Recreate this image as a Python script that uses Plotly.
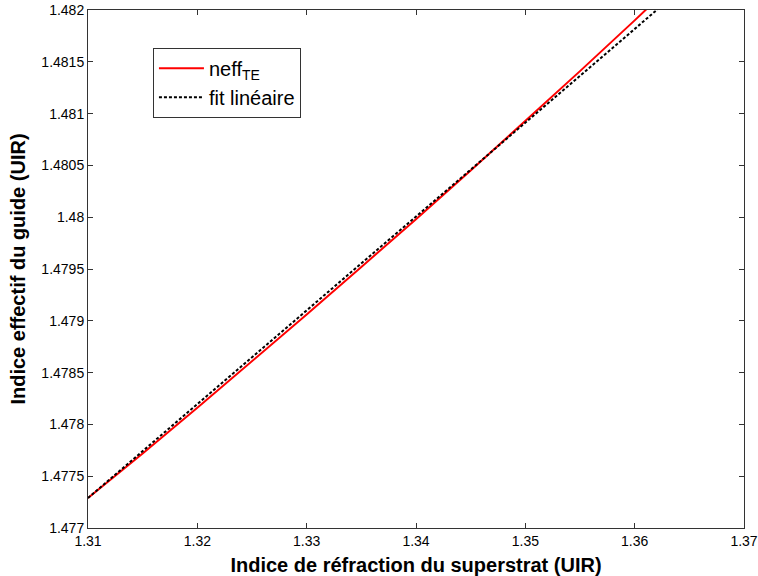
import plotly.graph_objects as go

# indice du superstrat (UIR)
n_sup = [1.31, 1.315, 1.32, 1.325, 1.33, 1.335, 1.34, 1.345, 1.35, 1.355, 1.36, 1.362]
# indice effectif TE
neff_te = [1.47729, 1.47772, 1.47816, 1.47861, 1.47906, 1.47952, 1.47998,
           1.48045, 1.48093, 1.48141, 1.48190, 1.48210]
# droite d'ajustement
n_fit = [1.31, 1.365]
neff_fit = [1.47729, 1.48227]

x_ticks = [1.31, 1.32, 1.33, 1.34, 1.35, 1.36, 1.37]
x_labels = ["1.31", "1.32", "1.33", "1.34", "1.35", "1.36", "1.37"]
y_ticks = [1.477, 1.4775, 1.478, 1.4785, 1.479, 1.4795, 1.48, 1.4805, 1.481, 1.4815, 1.482]
y_labels = ["1.477", "1.4775", "1.478", "1.4785", "1.479", "1.4795", "1.48",
            "1.4805", "1.481", "1.4815", "1.482"]

fig = go.Figure()
fig.add_trace(go.Scatter(x=n_sup, y=neff_te, mode="lines", name="neff<sub>TE</sub>",
                         line=dict(color="red", width=2)))
fig.add_trace(go.Scatter(x=n_fit, y=neff_fit, mode="lines", name="fit linéaire",
                         line=dict(color="black", width=2, dash="3px,2px")))

axis_common = dict(showgrid=False, zeroline=False, showline=True, mirror="ticks",
                   linecolor="#333333", linewidth=1, ticks="inside", ticklen=5,
                   tickcolor="#333333", tickfont=dict(size=14, color="black"),
                   automargin=False)

fig.update_xaxes(range=[1.31, 1.37], tickvals=x_ticks, ticktext=x_labels,
                 title=dict(text="<b>Indice de réfraction du superstrat (UIR)</b>",
                            font=dict(size=20, color="black"), standoff=10),
                 **axis_common)
fig.update_yaxes(range=[1.477, 1.482], tickvals=y_ticks, ticktext=y_labels,
                 title=dict(text="<b>Indice effectif du guide (UIR)</b>",
                            font=dict(size=20, color="black"), standoff=10),
                 **axis_common)

fig.update_layout(
    width=758, height=576,
    margin=dict(l=88, r=14, t=10, b=48),
    paper_bgcolor="white", plot_bgcolor="white",
    font=dict(family="Liberation Sans, Arial, sans-serif", color="black"),
    legend=dict(x=0.099, y=0.927, xanchor="left", yanchor="top",
                bordercolor="#333333", borderwidth=1, bgcolor="white",
                font=dict(size=20, color="black"), tracegroupgap=0,
                itemwidth=45),
)

# pas de marge autour du graphique dans la page
fig.write_html("out.html", config={"displayModeBar": False},
               post_script="document.body.style.margin='0';")
